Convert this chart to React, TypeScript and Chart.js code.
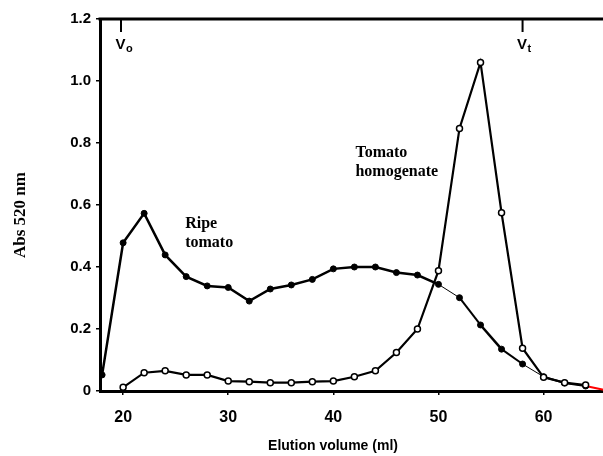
import React, { useEffect, useRef } from "react";
import { Chart, registerables } from "chart.js";

Chart.register(...registerables);

// Elution volume (ml) for each fraction
const ripeVolumes = [18, 20, 22, 24, 26, 28, 30, 32, 34, 36, 38, 40, 42, 44, 46, 48, 50, 52, 54, 56, 58, 60, 62, 64];
const ripeTomato = [0.052, 0.478, 0.573, 0.439, 0.369, 0.339, 0.334, 0.29, 0.329, 0.342, 0.36, 0.394, 0.4, 0.4, 0.382, 0.374, 0.344, 0.301, 0.213, 0.135, 0.087, 0.046, 0.026, 0.016];

const homogenateVolumes = [20, 22, 24, 26, 28, 30, 32, 34, 36, 38, 40, 42, 44, 46, 48, 50, 52, 54, 56, 58, 60, 62, 64];
const tomatoHomogenate = [0.012, 0.059, 0.065, 0.052, 0.052, 0.032, 0.03, 0.027, 0.027, 0.03, 0.032, 0.046, 0.065, 0.124, 0.2, 0.388, 0.847, 1.06, 0.575, 0.138, 0.044, 0.027, 0.019];

const tailVolumes = [64, 65.7];
const tailValues = [0.016, 0.004];

const xTicks = [20, 30, 40, 50, 60];
const yTicks = [0, 0.2, 0.4, 0.6, 0.8, 1.0, 1.2];

const xMin = 17.8;
const xMax = 65.7;
const yMin = 0;
const yMax = 1.2;

const voidMarkers = [
  { label: "V", sub: "o", volume: 19.8 },
  { label: "V", sub: "t", volume: 58 },
];

const seriesLabels = [
  { lines: ["Ripe", "tomato"], volume: 25.9, value: 0.526 },
  { lines: ["Tomato", "homogenate"], volume: 42.1, value: 0.755 },
];

const xTitle = "Elution volume (ml)";
const yTitle = "Abs 520 nm";

const SANS = '"Liberation Sans", Arial, sans-serif';
const SERIF = '"Liberation Serif", "Times New Roman", serif';

const decorPlugin = {
  id: "decor",
  afterDraw(chart: any) {
    const ctx = chart.ctx;
    const area = chart.chartArea;
    const xs = chart.scales.x;
    const ys = chart.scales.y;
    ctx.save();
    // top frame line
    ctx.strokeStyle = "#000";
    ctx.lineWidth = 3;
    ctx.beginPath();
    ctx.moveTo(area.left - 1.5, area.top);
    ctx.lineTo(chart.width, area.top);
    ctx.stroke();

    // Vo / Vt markers
    for (const m of voidMarkers) {
      const px = xs.getPixelForValue(m.volume);
      ctx.lineWidth = 2;
      ctx.beginPath();
      ctx.moveTo(px, area.top);
      ctx.lineTo(px, area.top + 13);
      ctx.stroke();
      ctx.fillStyle = "#000";
      ctx.font = `bold 15px ${SANS}`;
      ctx.textBaseline = "alphabetic";
      ctx.textAlign = "left";
      const vw = ctx.measureText(m.label).width;
      ctx.fillText(m.label, px - 5.5, area.top + 30);
      ctx.font = `bold 11px ${SANS}`;
      ctx.fillText(m.sub, px - 5 + vw, area.top + 33);
    }

    // series labels
    ctx.font = `bold 16px ${SERIF}`;
    ctx.textAlign = "left";
    ctx.textBaseline = "alphabetic";
    for (const s of seriesLabels) {
      const px = xs.getPixelForValue(s.volume);
      const py = ys.getPixelForValue(s.value);
      s.lines.forEach((line, i) => {
        ctx.fillText(line, px, py + i * 19);
      });
    }

    // axis titles
    ctx.font = `bold 14px ${SANS}`;
    ctx.textAlign = "center";
    ctx.textBaseline = "middle";
    ctx.fillText(xTitle, 333, 446);

    ctx.save();
    ctx.translate(21, 215);
    ctx.rotate(-Math.PI / 2);
    ctx.font = `bold 17px ${SERIF}`;
    ctx.fillText(yTitle, 0, 0);
    ctx.restore();

    ctx.restore();
  },
};

export default function App() {
  const canvasRef = useRef<HTMLCanvasElement | null>(null);

  useEffect(() => {
    if (!canvasRef.current) return;
    const ripeWidths = [2.5, 2.5, 2.5, 2.5, 2.5, 2.5, 2.5, 2.5, 2.5, 2.5, 2.5, 2.5, 2.5, 2.5, 2.5, 2.5, 1, 2, 2.5, 2, 1, 2, 2, 2];
    const chart = new Chart(canvasRef.current, {
      type: "line",
      data: {
        datasets: [
          {
            label: "Tomato homogenate",
            data: homogenateVolumes.map((v, i) => ({ x: v, y: tomatoHomogenate[i] })),
            borderColor: "#000",
            borderWidth: 2.2,
            pointRadius: 3,
            pointBorderWidth: 1.5,
            pointBackgroundColor: "#fff",
            pointBorderColor: "#000",
            tension: 0,
            order: 1,
          },
          {
            label: "Ripe tomato",
            data: ripeVolumes.map((v, i) => ({ x: v, y: ripeTomato[i] })),
            borderColor: "#000",
            borderWidth: 2.5,
            pointRadius: 3,
            pointBorderWidth: 1,
            pointBackgroundColor: "#000",
            pointBorderColor: "#000",
            tension: 0,
            order: 2,
            segment: {
              borderWidth: (ctx: any) => ripeWidths[ctx.p0DataIndex] ?? 2.5,
            },
          } as any,
          {
            label: "tail",
            data: tailVolumes.map((v, i) => ({ x: v, y: tailValues[i] })),
            borderColor: "#ff0000",
            borderWidth: 2,
            pointRadius: 0,
            tension: 0,
            order: 3,
          },
        ],
      },
      options: {
        responsive: false,
        animation: false,
        layout: { padding: { top: 19, left: 0, right: 0, bottom: 0 } },
        plugins: {
          legend: { display: false },
          tooltip: { enabled: false },
        },
        scales: {
          x: {
            type: "linear",
            min: xMin,
            max: xMax,
            afterBuildTicks: (scale: any) => {
              scale.ticks = xTicks.map((v) => ({ value: v }));
            },
            afterFit: (scale: any) => {
              scale.height = 65;
            },
            ticks: {
              color: "#000",
              font: { family: SANS, size: 16, weight: "bold" },
              padding: 13,
              maxRotation: 0,
              callback: (v: any) => String(v),
            },
            grid: {
              drawOnChartArea: false,
              drawTicks: true,
              tickLength: 4,
              color: "#000",
              lineWidth: 1.5,
            },
            border: { display: true, color: "#000", width: 3 },
          },
          y: {
            min: yMin,
            max: yMax,
            afterBuildTicks: (scale: any) => {
              scale.ticks = yTicks.map((v) => ({ value: v }));
            },
            afterFit: (scale: any) => {
              scale.width = 100;
            },
            ticks: {
              color: "#000",
              font: { family: SANS, size: 15, weight: "bold" },
              padding: 5,
              callback: (v: any) => (Number(v) === 0 ? "0" : Number(v).toFixed(1)),
            },
            grid: {
              drawOnChartArea: false,
              drawTicks: true,
              tickLength: 4,
              color: "#000",
              lineWidth: 1.5,
            },
            border: { display: true, color: "#000", width: 3 },
          },
        },
      },
      plugins: [decorPlugin],
    });
    return () => chart.destroy();
  }, []);

  return (
    <div style={{ position: "absolute", left: 0, top: 0, width: 603, height: 456, overflow: "hidden", background: "#fff" }}>
      <canvas ref={canvasRef} width={609} height={456} style={{ display: "block" }} />
    </div>
  );
}
